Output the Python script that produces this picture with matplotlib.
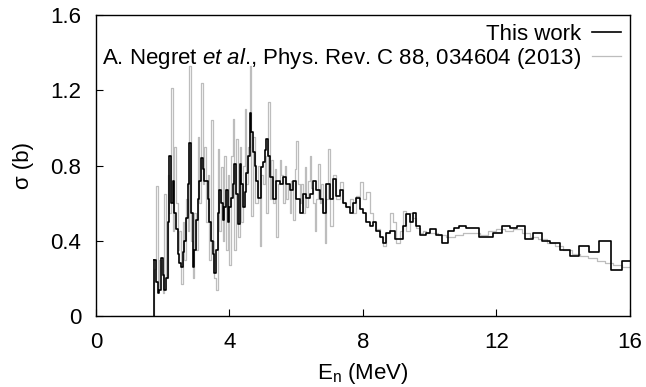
import numpy as np
import matplotlib
matplotlib.use("Agg")
import matplotlib.pyplot as plt
from matplotlib.ticker import FuncFormatter

# This work: bin left edges (MeV) and cross section (b)
work_e = [1.75, 1.80, 1.85, 1.90, 1.95, 2.00, 2.05, 2.10, 2.15, 2.20,
          2.25, 2.30, 2.35, 2.40, 2.45, 2.50, 2.55, 2.60, 2.65, 2.70,
          2.75, 2.80, 2.85, 2.90, 2.95, 3.00, 3.05, 3.10, 3.15, 3.20,
          3.25, 3.30, 3.35, 3.40, 3.45, 3.50, 3.55, 3.60, 3.65, 3.70,
          3.75, 3.80, 3.85, 3.90, 3.95, 4.00, 4.05, 4.10, 4.15, 4.20,
          4.25, 4.30, 4.35, 4.40, 4.45, 4.50, 4.55, 4.60, 4.65, 4.70,
          4.75, 4.80, 4.85, 4.90, 4.95, 5.00, 5.05, 5.10, 5.15, 5.20,
          5.30, 5.40, 5.50, 5.60, 5.70, 5.80, 5.90, 6.00, 6.10, 6.20,
          6.30, 6.40, 6.50, 6.60, 6.70, 6.80, 6.90, 7.00, 7.10, 7.20,
          7.30, 7.40, 7.50, 7.60, 7.70, 7.80, 7.90, 8.00, 8.10, 8.20,
          8.30, 8.40, 8.50, 8.60, 8.70, 8.80, 8.95, 9.20, 9.30, 9.40,
          9.50, 9.60, 9.70, 9.90, 10.00, 10.20, 10.37, 10.55, 10.73, 10.88,
          11.10, 11.48, 11.90, 12.16, 12.40, 12.60, 12.85, 13.10, 13.36, 13.60,
          13.90, 14.20, 14.47, 14.77, 15.07, 15.43, 15.76]
work_s = [0.30, 0.18, 0.12, 0.14, 0.31, 0.22, 0.14, 0.20, 0.50, 0.85,
          0.60, 0.72, 0.55, 0.46, 0.33, 0.28, 0.26, 0.34, 0.40, 0.52,
          0.70, 0.92, 0.55, 0.26, 0.35, 0.51, 0.62, 0.72, 0.84, 0.78,
          0.72, 0.72, 0.62, 0.50, 0.40, 0.33, 0.23, 0.35, 0.55, 0.67,
          0.60, 0.51, 0.58, 0.67, 0.50, 0.58, 0.63, 0.70, 0.81, 0.65,
          0.49, 0.81, 0.70, 0.58, 0.66, 0.76, 0.85, 1.08, 0.98, 0.87,
          0.80, 0.72, 0.63, 0.63, 0.79, 0.82, 0.88, 0.94, 0.85, 0.74,
          0.62, 0.72, 0.70, 0.74, 0.70, 0.67, 0.72, 0.62, 0.55, 0.65,
          0.63, 0.65, 0.72, 0.67, 0.62, 0.55, 0.70, 0.62, 0.73, 0.64,
          0.67, 0.60, 0.58, 0.55, 0.60, 0.63, 0.57, 0.55, 0.50, 0.48,
          0.50, 0.45, 0.42, 0.39, 0.44, 0.45, 0.41, 0.48, 0.54, 0.50,
          0.55, 0.48, 0.43, 0.44, 0.46, 0.43, 0.39, 0.45, 0.47, 0.48,
          0.47, 0.42, 0.44, 0.48, 0.47, 0.48, 0.41, 0.44, 0.40, 0.39,
          0.35, 0.32, 0.37, 0.34, 0.40, 0.245, 0.29]

# Negret et al. 2013
negret_e = [0.45, 1.75, 1.80, 1.85, 1.90, 1.95, 2.00, 2.05, 2.10, 2.15,
            2.20, 2.25, 2.30, 2.35, 2.40, 2.45, 2.50, 2.55, 2.60, 2.65,
            2.70, 2.75, 2.80, 2.85, 2.90, 2.95, 3.00, 3.05, 3.10, 3.15,
            3.20, 3.25, 3.30, 3.35, 3.40, 3.45, 3.50, 3.55, 3.60, 3.65,
            3.70, 3.75, 3.80, 3.85, 3.90, 3.95, 4.00, 4.05, 4.10, 4.15,
            4.20, 4.25, 4.30, 4.35, 4.40, 4.45, 4.50, 4.55, 4.60, 4.65,
            4.70, 4.75, 4.80, 4.85, 4.90, 4.95, 5.00, 5.05, 5.10, 5.15,
            5.20, 5.25, 5.30, 5.35, 5.40, 5.45, 5.50, 5.55, 5.60, 5.65,
            5.70, 5.75, 5.80, 5.85, 5.90, 5.95, 6.00, 6.05, 6.10, 6.15,
            6.20, 6.25, 6.30, 6.35, 6.40, 6.45, 6.50, 6.55, 6.60, 6.65,
            6.70, 6.75, 6.80, 6.85, 6.90, 6.95, 7.00, 7.10, 7.20, 7.30,
            7.40, 7.50, 7.60, 7.70, 7.80, 7.90, 8.00, 8.10, 8.20, 8.30,
            8.40, 8.50, 8.60, 8.70, 8.80, 8.90, 9.00, 9.10, 9.20, 9.30,
            9.40, 9.50, 9.60, 9.70, 9.80, 9.90, 10.00, 10.25, 10.50, 10.75,
            11.00, 11.25, 11.50, 11.75, 12.00, 12.25, 12.50, 12.75, 13.00, 13.25,
            13.50, 13.75, 14.00, 14.25, 14.50, 14.75, 15.00, 15.25, 15.50, 15.75]
negret_s = [0.00, 0.25, 0.69, 0.15, 0.30, 0.22, 0.12, 0.65, 0.20, 0.75,
            0.55, 1.21, 0.45, 0.90, 0.60, 0.35, 0.45, 0.17, 0.50, 0.30,
            0.62, 0.45, 1.33, 0.40, 0.20, 0.55, 0.35, 0.95, 0.60, 1.24,
            0.70, 0.90, 0.50, 0.75, 0.30, 1.04, 0.40, 0.20, 0.14, 0.89,
            0.45, 0.79, 0.40, 0.85, 0.35, 0.75, 0.27, 0.85, 1.05, 0.35,
            0.94, 0.42, 0.90, 0.50, 0.80, 1.10, 0.70, 0.90, 1.33, 0.53,
            0.95, 0.60, 0.60, 0.80, 0.37, 0.75, 0.70, 0.85, 0.55, 1.14,
            0.62, 0.83, 0.60, 0.78, 0.42, 0.70, 0.83, 0.75, 0.60, 0.80,
            0.62, 0.70, 0.55, 0.72, 0.51, 0.78, 0.93, 0.70, 0.60, 0.70,
            0.55, 0.79, 0.58, 0.72, 0.85, 0.68, 0.60, 0.45, 0.62, 0.81,
            0.60, 0.70, 0.55, 0.39, 0.62, 0.89, 0.48, 0.75, 0.62, 0.71,
            0.60, 0.58, 0.62, 0.55, 0.64, 0.71, 0.62, 0.66, 0.55, 0.50,
            0.46, 0.42, 0.37, 0.44, 0.55, 0.50, 0.39, 0.45, 0.56, 0.45,
            0.55, 0.52, 0.47, 0.44, 0.45, 0.44, 0.44, 0.43, 0.42, 0.43,
            0.44, 0.44, 0.43, 0.45, 0.46, 0.45, 0.46, 0.44, 0.42, 0.41,
            0.39, 0.37, 0.35, 0.33, 0.32, 0.31, 0.29, 0.28, 0.27, 0.26]

x_ticks = [0, 4, 8, 12, 16]
y_ticks = [0, 0.4, 0.8, 1.2, 1.6]

plt.rcParams['font.family'] = ['Liberation Sans', 'DejaVu Sans']
plt.rcParams['mathtext.fontset'] = 'custom'
plt.rcParams['mathtext.rm'] = 'Liberation Sans'
plt.rcParams['mathtext.it'] = 'Liberation Sans:italic'


def step_xy(edges, vals, end):
    # close the last bin at the given end energy
    xs = list(edges) + [end]
    ys = list(vals) + [vals[-1]]
    return xs, ys


def main():
    fig = plt.figure(figsize=(6.46, 3.87), dpi=100)
    ax = fig.add_axes([0.1486, 0.1835, 0.8266, 0.7775])

    gx, gy = step_xy(negret_e, negret_s, 16.0)
    bx, by = step_xy(work_e, work_s, 16.0)

    ax.step(gx, gy, where='post', color='#bdbdbd', lw=0.9,
            label=r'A. Negret $\mathit{et\ al}$., Phys. Rev. C 88, 034604 (2013)')
    ax.step(bx, by, where='post', color='black', lw=1.2, label='This work')
    ax.plot([1.75, 1.75], [0, work_s[0]], color='black', lw=1.2)

    ax.set_xlim(0, 16)
    ax.set_ylim(0, 1.6)
    ax.set_xticks(x_ticks)
    ax.set_yticks(y_ticks)
    ax.yaxis.set_major_formatter(FuncFormatter(lambda v, p: '0' if v == 0 else '%.1f' % v))
    ax.tick_params(direction='in', labelsize=16, length=5, width=0.8)
    ax.tick_params(axis='x', pad=11.5)
    ax.tick_params(axis='y', pad=10.5)
    for s in ax.spines.values():
        s.set_linewidth(1.0)

    ax.set_xlabel(r'E$_\mathrm{n}$ (MeV)', fontsize=16, labelpad=6)
    ax.set_ylabel('σ (b)', fontsize=16, labelpad=12)

    h, l = ax.get_legend_handles_labels()
    ax.legend(h[::-1], l[::-1], loc='upper right', frameon=False,
              markerfirst=False, fontsize=16, handlelength=1.3,
              handletextpad=0.5, borderaxespad=0.0, labelspacing=0.05)

    fig.savefig('out.png', dpi=100)


if __name__ == '__main__':
    main()
